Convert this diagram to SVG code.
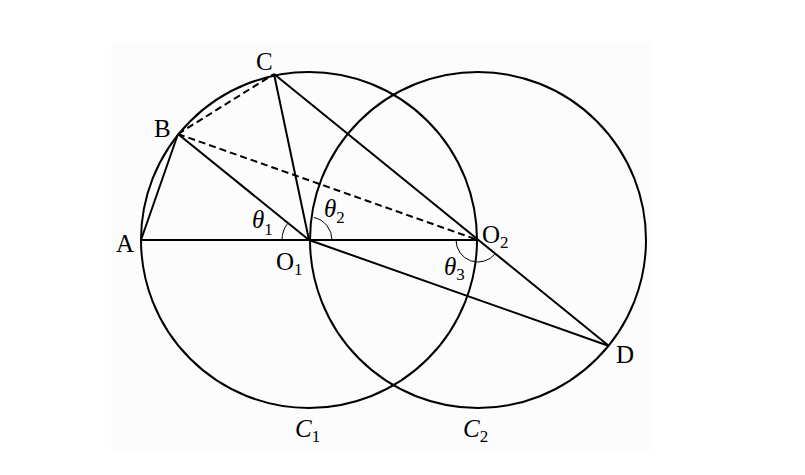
<svg xmlns="http://www.w3.org/2000/svg" width="805" height="475" viewBox="0 0 805 475">
<style>
.c{fill:none;stroke:#000;stroke-width:2}
.l{fill:none;stroke:#000;stroke-width:2}
.d{fill:none;stroke:#000;stroke-width:2;stroke-dasharray:7,4}
.a{fill:none;stroke:#000;stroke-width:1}
text{font-family:"Liberation Serif","DejaVu Serif",serif;font-size:25px;fill:#000}
.s{font-size:17px}
.i{font-style:italic}
</style>
<rect width="805" height="475" fill="#fff"/>
<rect x="111" y="42" width="541" height="408" fill="#fcfcfc"/>
<g id="C1"><circle class="c" cx="309" cy="240" r="168"/></g>
<g id="C2"><circle class="c" cx="478" cy="240" r="168"/></g>
<g id="connectors">
<line class="l" x1="141" y1="240" x2="478" y2="240"/>
<line class="l" x1="141" y1="240" x2="178" y2="134"/>
<line class="l" x1="178" y1="134" x2="309" y2="240"/>
<line class="l" x1="274" y1="74" x2="309" y2="240"/>
<line class="l" x1="274" y1="74" x2="609" y2="346"/>
<line class="l" x1="309" y1="240" x2="609" y2="346"/>
<line class="d" x1="178" y1="134" x2="274" y2="74"/>
<line class="d" x1="178" y1="134" x2="478" y2="240"/>
<path class="a" d="M282,240 A27,27 0 0 1 288,223"/>
<path class="a" d="M314,217.5 A23,23 0 0 1 332,240"/>
<path class="a" d="M456,240 A22,22 0 0 0 495,254"/>
</g>
<g id="labels">
<text x="116" y="252">A</text>
<text x="154" y="137">B</text>
<text x="256" y="70">C</text>
<text x="616" y="363">D</text>
<text x="276" y="270">O<tspan class="s" dy="5">1</tspan></text>
<text x="482" y="243">O<tspan class="s" dy="5">2</tspan></text>
<text class="i" x="252" y="228">θ<tspan class="s" font-style="normal" dy="7">1</tspan></text>
<text class="i" x="324" y="217">θ<tspan class="s" font-style="normal" dy="6">2</tspan></text>
<text class="i" x="444" y="275">θ<tspan class="s" font-style="normal" dy="5">3</tspan></text>
<text class="i" x="295" y="437">C<tspan class="s" font-style="normal" dy="5">1</tspan></text>
<text class="i" x="463" y="437">C<tspan class="s" font-style="normal" dy="5">2</tspan></text>
</g>
</svg>
